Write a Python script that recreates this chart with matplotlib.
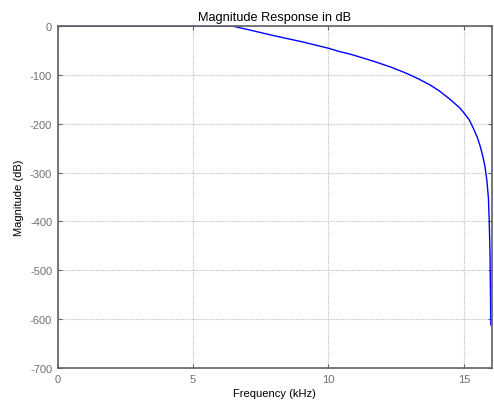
import matplotlib.pyplot as plt

plt.rcParams['font.family'] = ['Liberation Sans', 'DejaVu Sans']
plt.rcParams['axes.unicode_minus'] = False

# frequency (kHz) and magnitude (dB)
freq_khz = [0, 2, 4, 6, 6.45, 7.0, 8.0, 9.0, 10.0, 10.42, 10.8, 11.66, 12.3,
            12.89, 13.3, 13.75, 14.1, 14.49, 14.84, 14.98, 15.2, 15.35, 15.5,
            15.6, 15.7, 15.78, 15.85, 15.91, 15.94, 15.97, 15.99, 16.0]
mag_db = [0, 0, 0, 0, 0, -7, -20, -32, -45.5, -52.5, -57.5, -72, -84,
          -97, -107.5, -120.5, -133, -150, -167, -176, -192, -209, -228,
          -245, -266, -287, -315, -352, -400, -470, -570, -612]

x_ticks = [0, 5, 10, 15]
y_ticks = [0, -100, -200, -300, -400, -500, -600, -700]

fig = plt.figure(figsize=(4.94, 4.06), dpi=100)
ax = fig.add_axes([0.1168, 0.0911, 0.8785, 0.8424])

ax.plot(freq_khz, mag_db, color='#0000ff', linewidth=1.0)

ax.set_xlim(0, 16.03)
ax.set_ylim(-700, 0)
ax.set_xticks(x_ticks)
ax.set_yticks(y_ticks)
ax.grid(True, linestyle=(0, (1, 1)), color='#c0c0c0', linewidth=0.8)

ax.tick_params(direction='in', length=3, width=0.8, colors='#606060',
               labelcolor='#707070', labelsize=8, top=True, right=True, pad=4)
for sp in ax.spines.values():
    sp.set_color('#606060')
    sp.set_linewidth(1.2)

ax.set_title('Magnitude Response in dB', fontsize=9.2, pad=4)
ax.set_xlabel('Frequency (kHz)', fontsize=8, labelpad=3)
ax.set_ylabel('Magnitude (dB)', fontsize=8, labelpad=4)

plt.savefig('out.png', dpi=100)
